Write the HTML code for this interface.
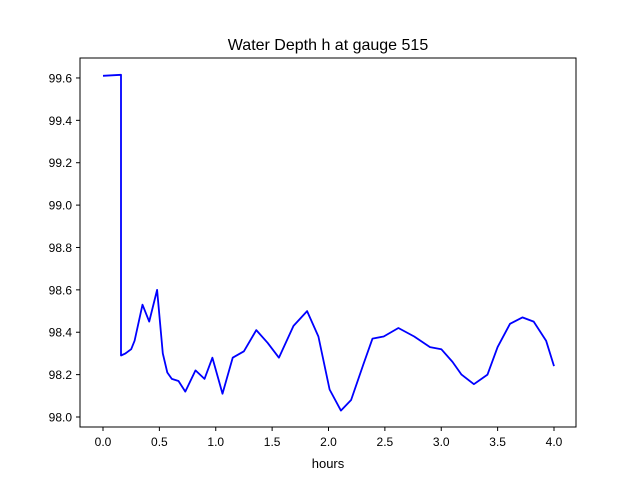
<!DOCTYPE html>
<html><head><meta charset="utf-8"><style>
body{margin:0;background:#fff;}
svg{display:block;font-family:"Liberation Sans","DejaVu Sans",sans-serif;}
</style></head><body>
<svg id="chart" width="640" height="480" viewBox="0 0 640 480">
<rect x="0" y="0" width="640" height="480" fill="#fff"/>
<text x="328" y="50" text-anchor="middle" font-size="16">Water Depth h at gauge 515</text>
<g id="xticks"></g>
<g id="yticks"></g>
<path id="series" fill="none" stroke="#0000ff" stroke-width="1.8" stroke-linejoin="round"/>
<rect x="80" y="58" width="496" height="369" fill="none" stroke="#000" stroke-width="1"/>
<text x="328" y="468" text-anchor="middle" font-size="13">hours</text>
</svg>
<script>
const hours = [0,0.16,0.16,0.2,0.25,0.28,0.35,0.41,0.48,0.53,0.57,0.61,0.67,0.73,0.82,0.9,0.97,1.06,1.15,1.25,1.36,1.46,1.56,1.69,1.81,1.91,2.01,2.11,2.2,2.31,2.39,2.49,2.62,2.76,2.9,3.0,3.1,3.18,3.29,3.41,3.5,3.61,3.72,3.82,3.93,4.0];
const depth = [99.61,99.615,98.29,98.30,98.32,98.36,98.53,98.45,98.60,98.30,98.21,98.18,98.17,98.12,98.22,98.18,98.28,98.11,98.28,98.31,98.41,98.35,98.28,98.43,98.50,98.38,98.13,98.03,98.08,98.25,98.37,98.38,98.42,98.38,98.33,98.32,98.26,98.20,98.155,98.20,98.33,98.44,98.47,98.45,98.36,98.24];
const xTicks = [0,0.5,1,1.5,2,2.5,3,3.5,4];
const yTicks = [98.0,98.2,98.4,98.6,98.8,99.0,99.2,99.4,99.6];
const ns="http://www.w3.org/2000/svg";
const xs = h => 103 + h*112.75;
const ys = v => 417 - (v-98)*211.9;
let d="";
hours.forEach((h,i)=>{d+=(i?"L":"M")+xs(h).toFixed(1)+","+ys(depth[i]).toFixed(1);});
document.getElementById('series').setAttribute('d',d);
const gx=document.getElementById('xticks');
xTicks.forEach(t=>{
  const l=document.createElementNS(ns,'line');
  l.setAttribute('x1',xs(t));l.setAttribute('x2',xs(t));l.setAttribute('y1',427);l.setAttribute('y2',431);l.setAttribute('stroke','#000');
  
  
  gx.appendChild(l);
  const tx=document.createElementNS(ns,'text');
  tx.setAttribute('x',xs(t));tx.setAttribute('y',446);tx.setAttribute('text-anchor','middle');tx.setAttribute('font-size','12');
  tx.textContent=t.toFixed(1);
  
  
  gx.appendChild(tx);
});
const gy=document.getElementById('yticks');
yTicks.forEach(t=>{
  const l=document.createElementNS(ns,'line');
  l.setAttribute('x1',76);l.setAttribute('x2',80);l.setAttribute('y1',ys(t));l.setAttribute('y2',ys(t));l.setAttribute('stroke','#000');
  
  
  gy.appendChild(l);
  const tx=document.createElementNS(ns,'text');
  tx.setAttribute('x',72);tx.setAttribute('y',ys(t)+4.5);tx.setAttribute('text-anchor','end');tx.setAttribute('font-size','12');
  tx.textContent=t.toFixed(1);
  
  
  gy.appendChild(tx);
});
</script>
</body></html>
